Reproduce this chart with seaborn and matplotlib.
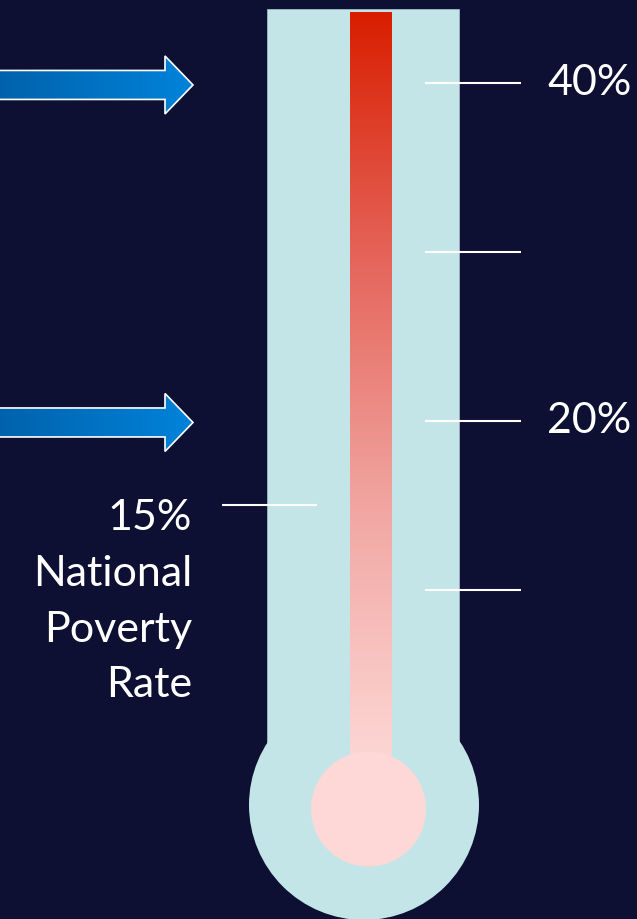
import numpy as np
import matplotlib.pyplot as plt
import seaborn as sns
from matplotlib.patches import Ellipse, Polygon, Rectangle
from matplotlib.colors import LinearSegmentedColormap

# values
tick_values = [10, 20, 30, 40]
tick_labels = ['', '20%', '', '40%']
fill_level = 44.2
national_rate = 15
national_lines = ['15%', 'National', 'Poverty', 'Rate']
arrow_levels = [39.9, 19.9]

BG = '#0d0f33'
TUBE = '#c4e5e8'
PINK = '#fdd8d7'
PX = 16.876   # pixels per percentage point
ZERO = 759.3  # pixel row of 0%

sns.set_theme(style='white', rc={'axes.facecolor': BG, 'figure.facecolor': BG})
plt.rcParams['font.family'] = ['Lato', 'DejaVu Sans']

fig = plt.figure(figsize=(6.37, 9.2), dpi=100)
ax = fig.add_axes([0, 0, 1, 1])
ax.axis('off')

# glass tube and bulb
tube_top = (ZERO - 10) / PX
ax.add_patch(Rectangle((267, -3), 192, tube_top + 3, facecolor=TUBE, edgecolor='#9fb9c4', lw=0.6, zorder=1))
ax.add_patch(Ellipse((364, (ZERO - 806) / PX), 230, 230 / PX, facecolor=TUBE, edgecolor='none', zorder=1.5))

# red column with vertical gradient
cmap = LinearSegmentedColormap.from_list('heat', ['#fdd9d7', '#f2a9a5', '#e5675d', '#d91e00'])
bar = ax.bar(371, fill_level + 1, bottom=-1, width=42, facecolor='none', edgecolor='none', zorder=2)[0]
grad = ax.imshow(np.linspace(0, 1, 256).reshape(-1, 1), extent=[350, 392, -1, fill_level],
                 origin='lower', cmap=cmap, aspect='auto', zorder=2)
grad.set_clip_path(bar)
ax.add_patch(Ellipse((368.5, (ZERO - 810) / PX), 115, 115 / PX, facecolor=PINK, edgecolor='none', zorder=3))

# scale marks
ax.hlines(tick_values, 425, 521, color='white', lw=1.5, zorder=4)
for v, lab in zip(tick_values, tick_labels):
    if lab:
        ax.text(547, v + 0.05, lab, va='center', ha='left', color='white', fontsize=31)

# national rate marker
ax.hlines(national_rate, 222, 317, color='white', lw=1.5, zorder=4)
for i, line in enumerate(national_lines):
    ax.text(192, national_rate - (24 + 55.7 * i) / PX, line, ha='right', va='baseline',
            color='white', fontsize=31)

# arrows
acmap = LinearSegmentedColormap.from_list('arrow', ['#0062ac', '#0083da'])
sh, hh = 14.5 / PX, 29 / PX
for lvl in arrow_levels:
    pts = [(-5, lvl + sh), (165, lvl + sh), (165, lvl + hh), (193, lvl),
           (165, lvl - hh), (165, lvl - sh), (-5, lvl - sh)]
    poly = Polygon(pts, closed=True, facecolor='none', edgecolor='white', lw=1.2, zorder=6)
    ax.add_patch(poly)
    img = ax.imshow(np.linspace(0, 1, 256).reshape(1, -1), extent=[0, 193, lvl - hh, lvl + hh],
                    cmap=acmap, aspect='auto', zorder=5)
    img.set_clip_path(poly)

ax.set_xlim(0, 637)
ax.set_ylim((ZERO - 920) / PX, ZERO / PX)
fig.savefig('out.png', dpi=100, facecolor=BG)
